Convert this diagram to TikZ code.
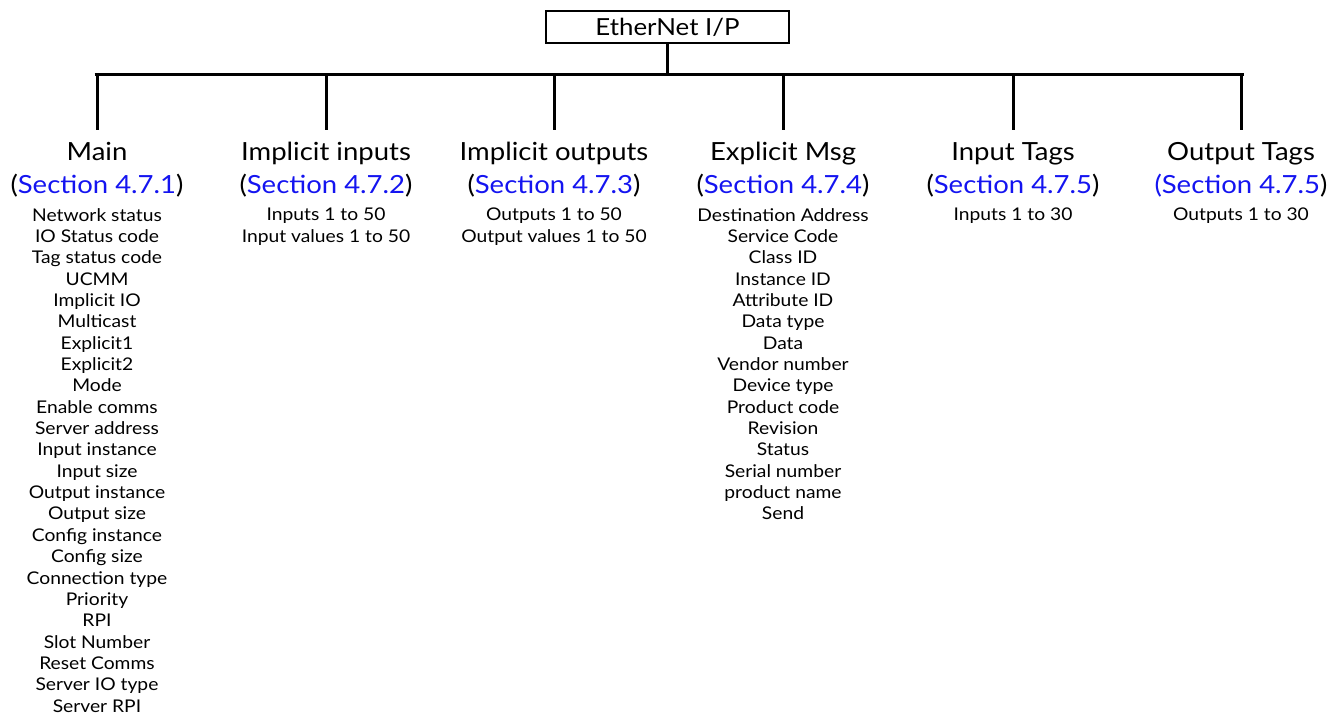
\documentclass[tikz,border=0pt]{standalone}
\usepackage{fontspec}
\setmainfont{Lato}[FakeStretch=1.1]
\begin{document}
\begin{tikzpicture}[x=1pt,y=-1pt,
  link/.style={line width=3pt},
  titlebox/.style={draw,line width=1.6pt,minimum width=243pt,minimum height=32pt,inner sep=0pt,font=\fontsize{23.5}{26}\selectfont},
  headtext/.style={anchor=base,inner sep=0pt,font=\fontsize{25}{28}\selectfont},
  secttext/.style={anchor=base,inner sep=0pt,font=\fontsize{25}{28}\selectfont},
  itemlist/.style={anchor=north,inner sep=0pt,align=center,font=\fontsize{17.5}{21.35}\selectfont},
]
\definecolor{sectblue}{RGB}{20,20,240}
\newcommand{\sect}[1]{(\textcolor{sectblue}{Section #1})}
\useasboundingbox (0,0) rectangle (1342,717);

% root
\node[titlebox] (root) at (667.5,27) {EtherNet I/P};
\coordinate (busL) at (96,75);
\coordinate (busR) at (1242,75);
\coordinate (busM) at (667.5,75);
\draw[link] (root.south) -- (busM);
\draw[link] ([xshift=-1.5pt]busL) -- ([xshift=1.5pt]busR);

% branches
\foreach \n/\x in {a/97,b/326,c/554,d/783,e/1013,f/1241}{
  \coordinate (top\n) at (\x,75);
  \coordinate (end\n) at (\x,130);
  \draw[link] (top\n) -- (end\n);
}

% column headers
\node[headtext] (ha) at (97,160) {Main};
\node[headtext] (hb) at (326,160) {Implicit inputs};
\node[headtext] (hc) at (554,160) {Implicit outputs};
\node[headtext] (hd) at (783,160) {Explicit Msg};
\node[headtext] (he) at (1013,160) {Input Tags};
\node[headtext] (hf) at (1241,160) {Output Tags};

\node[secttext] (sa) at (97,193) {\sect{4.7.1}};
\node[secttext] (sb) at (326,193) {\sect{4.7.2}};
\node[secttext] (sc) at (554,193) {\sect{4.7.3}};
\node[secttext] (sd) at (783,193) {\sect{4.7.4}};
\node[secttext] (se) at (1013,193) {\sect{4.7.5}};
\node[secttext] (sf) at (1241,193) {\textcolor{sectblue}{(Section 4.7.5})};

% parameter lists
\node[itemlist] (la) at (97,208) {Network status\\IO Status code\\Tag status code\\UCMM\\Implicit IO\\Multicast\\Explicit1\\Explicit2\\Mode\\Enable comms\\Server address\\Input instance\\Input size\\Output instance\\Output size\\Config instance\\Config size\\Connection type\\Priority\\RPI\\Slot Number\\Reset Comms\\Server IO type\\Server RPI};
\node[itemlist] (lb) at (326,208) {Inputs 1 to 50\\Input values 1 to 50};
\node[itemlist] (lc) at (554,208) {Outputs 1 to 50\\Output values 1 to 50};
\node[itemlist] (ld) at (783,208) {Destination Address\\Service Code\\Class ID\\Instance ID\\Attribute ID\\Data type\\Data\\Vendor number\\Device type\\Product code\\Revision\\Status\\Serial number\\product name\\Send};
\node[itemlist] (le) at (1013,208) {Inputs 1 to 30};
\node[itemlist] (lf) at (1241,208) {Outputs 1 to 30};
\end{tikzpicture}
\end{document}
